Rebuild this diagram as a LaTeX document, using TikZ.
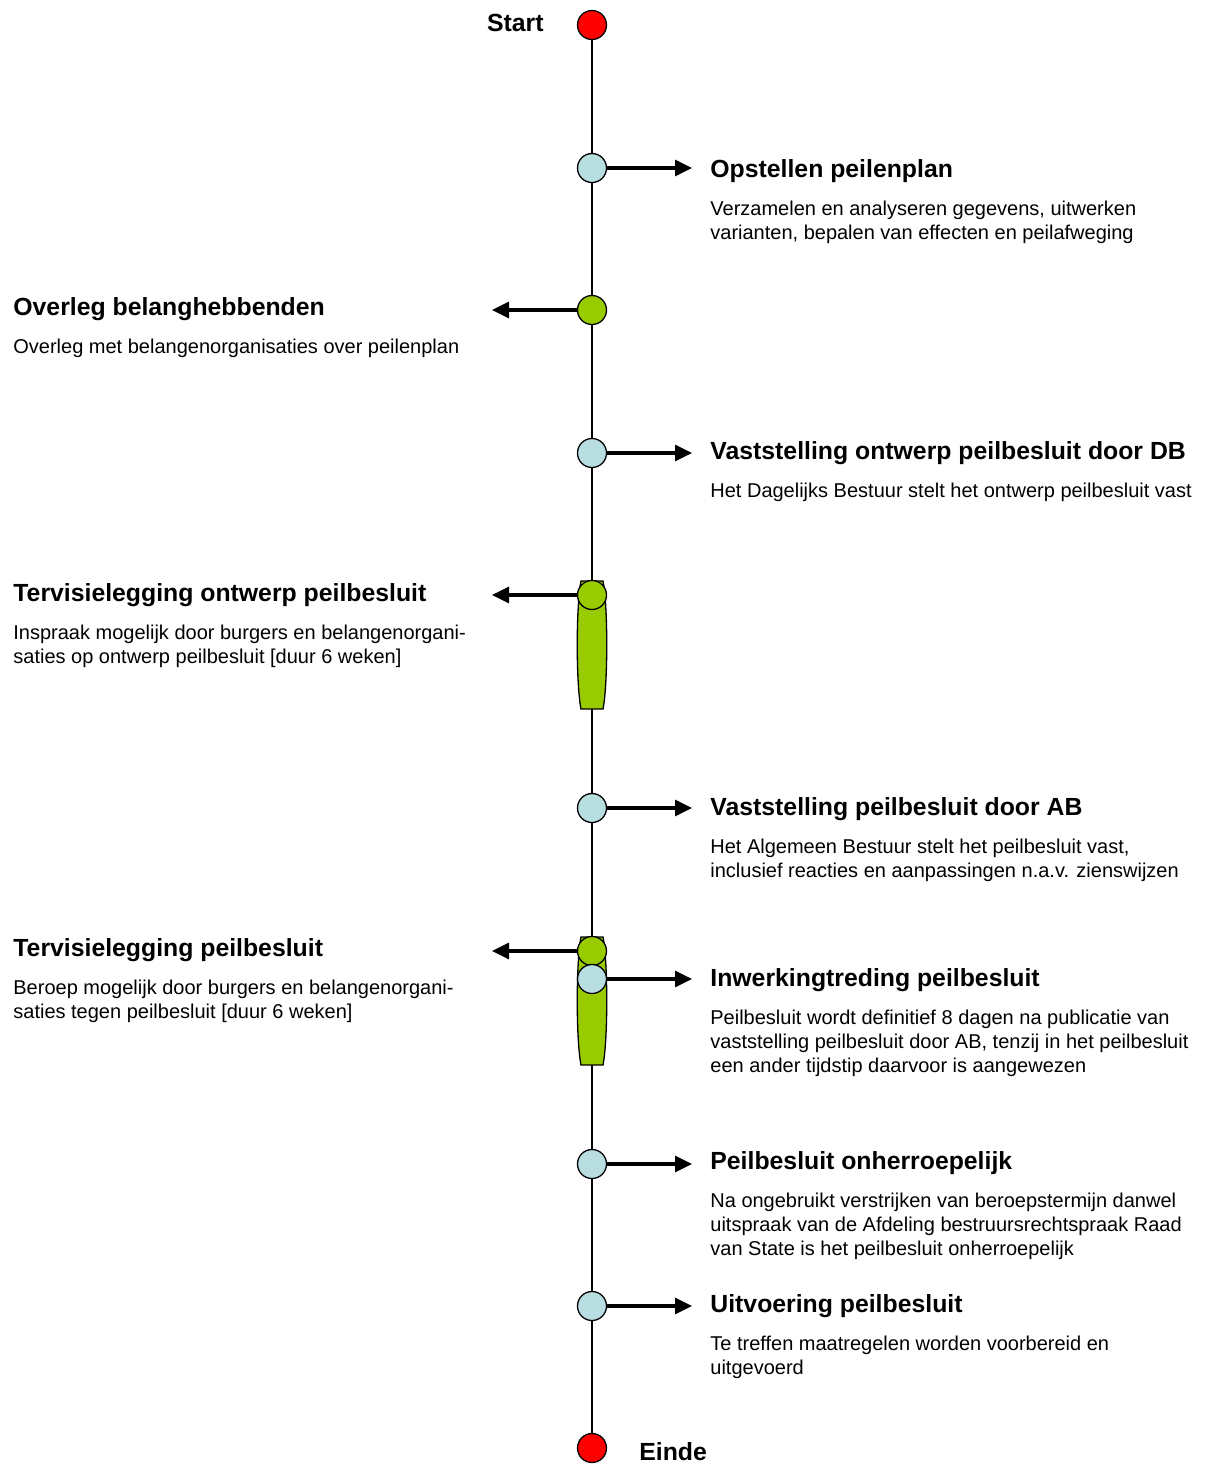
\documentclass[tikz,border=0pt]{standalone}
\usepackage{fontspec}
\setmainfont{Liberation Sans}
\usetikzlibrary{arrows.meta,backgrounds}
\definecolor{lblue}{RGB}{184,222,226}
\definecolor{lgreen}{RGB}{153,204,0}
\tikzset{>={Triangle[length=8.5pt,width=8pt]}}

\begin{document}
\begin{tikzpicture}[x=0.5pt, y=-0.5pt,
    stage/.style={circle, draw, line width=0.65pt, minimum size=14.5pt, inner sep=0pt},
    ends/.style={stage, fill=red},
    own/.style={stage, fill=lblue},
    ext/.style={stage, fill=lgreen},
    period/.style={draw, line width=0.65pt, fill=lgreen},
    head/.style={font=\bfseries\fontsize{12.4}{14}\selectfont, inner sep=0pt, anchor=base west},
    info/.style={font=\fontsize{10}{12}\selectfont, align=left, inner sep=0pt, anchor=north west},
    go/.style={->, line width=1.6pt}]
  \useasboundingbox (0,0) rectangle (1207,1464);

  % termijnen (inspraak en beroep)
  \foreach \ytop in {581,937}
    \draw[period] (581,\ytop) -- (603,\ytop)
      .. controls (608,\ytop+25) and (608,\ytop+103) .. (603,\ytop+128)
      -- (581,\ytop+128)
      .. controls (576,\ytop+103) and (576,\ytop+25) .. cycle;

  \node[ends] (start) at (592,25) {};
  \node[own] (s1) at (592,168) {};
  \node[ext] (s2) at (592,310) {};
  \node[own] (s3) at (592,453) {};
  \node[ext] (s4) at (592,595) {};
  \node[own] (s5) at (592,808) {};
  \node[ext] (s6) at (592,951) {};
  \node[own] (s7) at (592,979) {};
  \node[own] (s8) at (592,1164) {};
  \node[own] (s9) at (592,1306) {};
  \node[ends] (einde) at (592,1448) {};

  \begin{pgfonlayer}{background}
    \draw[line width=0.7pt] (start) -- (einde);
  \end{pgfonlayer}

  \coordinate (a1) at (692,168);
  \coordinate (a2) at (492,310);
  \coordinate (a3) at (692,453);
  \coordinate (a4) at (492,595);
  \coordinate (a5) at (692,808);
  \coordinate (a6) at (492,951);
  \coordinate (a7) at (692,979);
  \coordinate (a8) at (692,1164);
  \coordinate (a9) at (692,1306);
  \foreach \i in {1,...,9}
    \draw[go] (s\i) -- (a\i);

  \node[head, anchor=base east] (lstart) at (544,31) {Start};
  \node[head] (leinde) at (639,1460) {Einde};

  \node[head] (t1) at (710,177) {Opstellen peilenplan};
  \node[info] (d1) at ([yshift=-11.7pt]t1.base west) {Verzamelen en analyseren gegevens, uitwerken\\varianten, bepalen van effecten en peilafweging};

  \node[head] (t2) at (13,315) {Overleg belanghebbenden};
  \node[info] (d2) at ([yshift=-11.7pt]t2.base west) {Overleg met belangenorganisaties over peilenplan};

  \node[head] (t3) at (710,459) {Vaststelling ontwerp peilbesluit door DB};
  \node[info] (d3) at ([yshift=-11.7pt]t3.base west) {Het Dagelijks Bestuur stelt het ontwerp peilbesluit vast};

  \node[head] (t4) at (13,601) {Tervisielegging ontwerp peilbesluit};
  \node[info] (d4) at ([yshift=-11.7pt]t4.base west) {Inspraak mogelijk door burgers en belangenorgani-\\saties op ontwerp peilbesluit [duur 6 weken]};

  \node[head] (t5) at (710,815) {Vaststelling peilbesluit door AB};
  \node[info] (d5) at ([yshift=-11.7pt]t5.base west) {Het Algemeen Bestuur stelt het peilbesluit vast,\\inclusief reacties en aanpassingen n.a.v. zienswijzen};

  \node[head] (t6) at (13,956) {Tervisielegging peilbesluit};
  \node[info] (d6) at ([yshift=-11.7pt]t6.base west) {Beroep mogelijk door burgers en belangenorgani-\\saties tegen peilbesluit [duur 6 weken]};

  \node[head] (t7) at (710,986) {Inwerkingtreding peilbesluit};
  \node[info] (d7) at ([yshift=-11.7pt]t7.base west) {Peilbesluit wordt definitief 8 dagen na publicatie van\\vaststelling peilbesluit door AB, tenzij in het peilbesluit\\een ander tijdstip daarvoor is aangewezen};

  \node[head] (t8) at (710,1169) {Peilbesluit onherroepelijk};
  \node[info] (d8) at ([yshift=-11.7pt]t8.base west) {Na ongebruikt verstrijken van beroepstermijn danwel\\uitspraak van de Afdeling bestruursrechtspraak Raad\\van State is het peilbesluit onherroepelijk};

  \node[head] (t9) at (710,1312) {Uitvoering peilbesluit};
  \node[info] (d9) at ([yshift=-11.7pt]t9.base west) {Te treffen maatregelen worden voorbereid en\\uitgevoerd};
\end{tikzpicture}
\end{document}
